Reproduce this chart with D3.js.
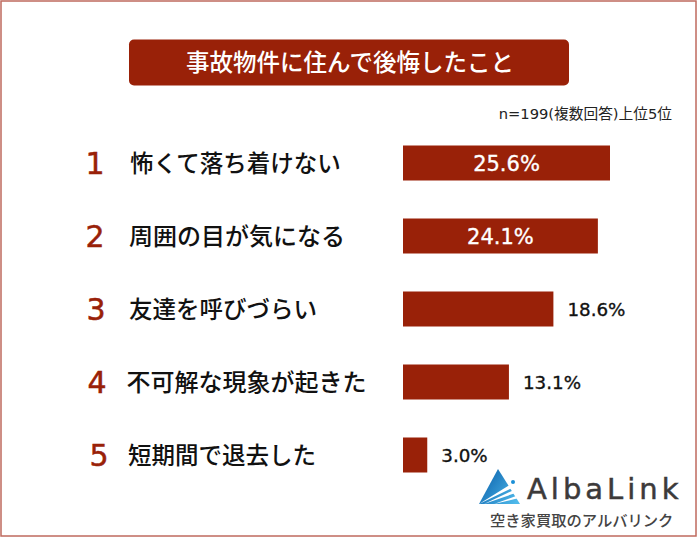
<!DOCTYPE html>
<html>
<head>
<meta charset="utf-8">
<script src="https://cdn.jsdelivr.net/npm/d3@7"></script>
<style>
  html, body { margin: 0; padding: 0; background: #fff; }
  svg { display: block; }
  text { font-family: "Noto Sans CJK JP", "Noto Sans", sans-serif; }
  text.wide { font-family: "DejaVu Sans", "Noto Sans CJK JP", sans-serif; }
</style>
</head>
<body>
<svg id="chart" width="700" height="540"></svg>
<script>
// values
const ranks = [1, 2, 3, 4, 5];
const labels = ["怖くて落ち着けない", "周囲の目が気になる", "友達を呼びづらい", "不可解な現象が起きた", "短期間で退去した"];
const percents = [25.6, 24.1, 18.6, 13.1, 3.0];
const labelX = [130, 129, 129, 126.5, 128];
const labelSize = [23.5, 24, 23.5, 24, 23.5];
const rankX = [95, 95, 96, 97, 99];

const titleText = "事故物件に住んで後悔したこと";
const noteText = "n=199(複数回答)上位5位";
const brandText = "AlbaLink";
const brandSub = "空き家買取のアルバリンク";

const red = "#992108";

const svg = d3.select("#chart");

// frame
svg.append("rect").attr("x", 1).attr("y", 1).attr("width", 695).attr("height", 535)
  .attr("fill", "#fff").attr("stroke", "#bf6a5e").attr("stroke-width", 1.5);

// title box
svg.append("rect").attr("x", 129).attr("y", 39.5).attr("width", 440).attr("height", 46).attr("rx", 5)
  .attr("fill", red);
svg.append("text").attr("x", 350).attr("y", 71).attr("text-anchor", "middle")
  .attr("font-size", 23.5).attr("font-weight", 500).attr("fill", "#fff").text(titleText);

svg.append("text").attr("class", "wide").attr("x", 672).attr("y", 119).attr("text-anchor", "end")
  .attr("font-size", 14.7).attr("fill", "#222").text(noteText);

// scales
const x = d3.scaleLinear().domain([0, 25.6]).range([403, 610]);
const y = d3.scaleBand().domain(ranks).range([126.5, 491.5]).paddingInner(38 / 73).paddingOuter(19 / 73);

const rows = svg.selectAll("g.row").data(ranks).join("g").attr("class", "row");

rows.append("rect")
  .attr("x", x(0))
  .attr("y", d => y(d))
  .attr("width", (d, i) => x(percents[i]) - x(0))
  .attr("height", y.bandwidth())
  .attr("fill", red);

rows.append("text")
  .attr("class", "wide")
  .attr("x", (d, i) => rankX[i])
  .attr("y", d => y(d) + y.bandwidth() / 2 + 11)
  .attr("text-anchor", "middle")
  .attr("font-size", 30)
  .attr("fill", red)
  .attr("stroke", red)
  .attr("stroke-width", 0.5)
  .text(d => d);

rows.append("text")
  .attr("x", (d, i) => labelX[i])
  .attr("y", d => y(d) + y.bandwidth() / 2 + 8.5)
  .attr("font-size", (d, i) => labelSize[i])
  .attr("font-weight", 500)
  .attr("fill", "#111")
  .text((d, i) => labels[i]);

// values: inside the bar for the two long ones, outside otherwise
rows.append("text")
  .attr("class", "wide")
  .attr("x", (d, i) => i < 2 ? (x(0) + x(percents[i])) / 2 : x(percents[i]) + 14)
  .attr("y", d => y(d) + y.bandwidth() / 2 + (d < 3 ? 7.5 : 6.5))
  .attr("text-anchor", (d, i) => i < 2 ? "middle" : "start")
  .attr("font-size", (d, i) => i < 2 ? 21 : 18.3)
  .attr("fill", (d, i) => i < 2 ? "#fff" : "#111")
  .attr("stroke", (d, i) => i < 2 ? "#fff" : "#111")
  .attr("stroke-width", 0.35)
  .text((d, i) => percents[i].toFixed(1) + "%");

// logo
const defs = svg.append("defs");
const grad = defs.append("linearGradient").attr("id", "logoBlue")
  .attr("x1", "0").attr("y1", "0.2").attr("x2", "1").attr("y2", "0.8");
grad.append("stop").attr("offset", "0").attr("stop-color", "#0b62ad");
grad.append("stop").attr("offset", "1").attr("stop-color", "#4fb9ea");

const logo = svg.append("g");
logo.append("path").attr("d", "M498 469 L479 504 L520 504 Z").attr("fill", "url(#logoBlue)");
logo.append("path").attr("d", "M479 504 L511 484 L514 487 Z").attr("fill", "#fff");
logo.append("path").attr("d", "M484 504 L514 490 L515.5 493 Z").attr("fill", "#fff");
logo.append("path").attr("d", "M494 504 L516 496 L517 498.5 Z").attr("fill", "#fff");
logo.append("circle").attr("cx", 513).attr("cy", 482).attr("r", 2).attr("fill", "#1a8fd6");

svg.append("text").attr("class", "wide").attr("x", 527).attr("y", 499).attr("font-size", 29)
  .attr("letter-spacing", 4).attr("fill", "#3c3a3a").attr("stroke", "#3c3a3a").attr("stroke-width", 0.5)
  .text(brandText);
svg.append("text").attr("x", 490).attr("y", 526).attr("font-size", 15.3).attr("font-weight", 500)
  .attr("fill", "#444").text(brandSub);
</script>
</body>
</html>
